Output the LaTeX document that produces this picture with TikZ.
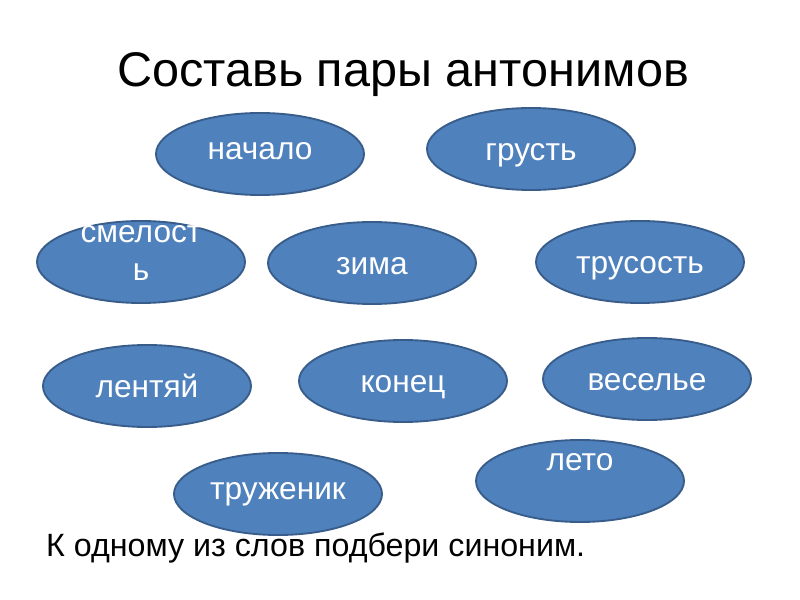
\documentclass[tikz,border=0pt]{standalone}
\usepackage{fontspec}
\setmainfont{Liberation Sans}
\usetikzlibrary{shapes.geometric}
\definecolor{ovalfill}{HTML}{4F81BD}
\definecolor{ovaldraw}{HTML}{385D8A}

\begin{document}
\begin{tikzpicture}[x=0.03cm, y=-0.03cm,
  oval/.style={ellipse, draw=ovaldraw, fill=ovalfill, line width=1.6pt,
    minimum width=208*0.03cm, minimum height=82*0.03cm, inner sep=0pt,
    text=white, font=\fontsize{27}{33}\selectfont, align=center,
    text height=24pt, text depth=5pt},
  wordtext/.style={text=white, font=\fontsize{27}{33}\selectfont, align=center}]
\useasboundingbox[fill=white] (0,0) rectangle (800,600);

% Title and task
\node[font=\fontsize{41.5}{48}\selectfont] (title) at (403,75) {Составь пары антонимов};
\node[font=\fontsize{27.5}{33}\selectfont, anchor=west] (task) at (42,548) {К одному из слов подбери синоним.};

% First row
\node[oval] (nachalo) at (260,154) {\raisebox{5pt}{начало}};
\node[oval] (grust) at (531,149) {грусть};

% Second row
\node[oval, label={[wordtext, yshift=9*0.03cm]center:смелост\\ь}] (smelost) at (141,262) {};
\node[oval] (zima) at (372,263) {зима};
\node[oval] (trusost) at (640,262) {трусость};

% Third row
\node[oval] (lentyay) at (147,386) {лентяй};
\node[oval] (konec) at (403,381) {конец};
\node[oval] (veselye) at (647,379) {веселье};

% Fourth row
\node[oval] (truzhenik) at (278,494) {\raisebox{5pt}{труженик}};
\node[oval, label={[wordtext, yshift=19*0.03cm]center:лето}] (leto) at (580,481) {};
\end{tikzpicture}
\end{document}
